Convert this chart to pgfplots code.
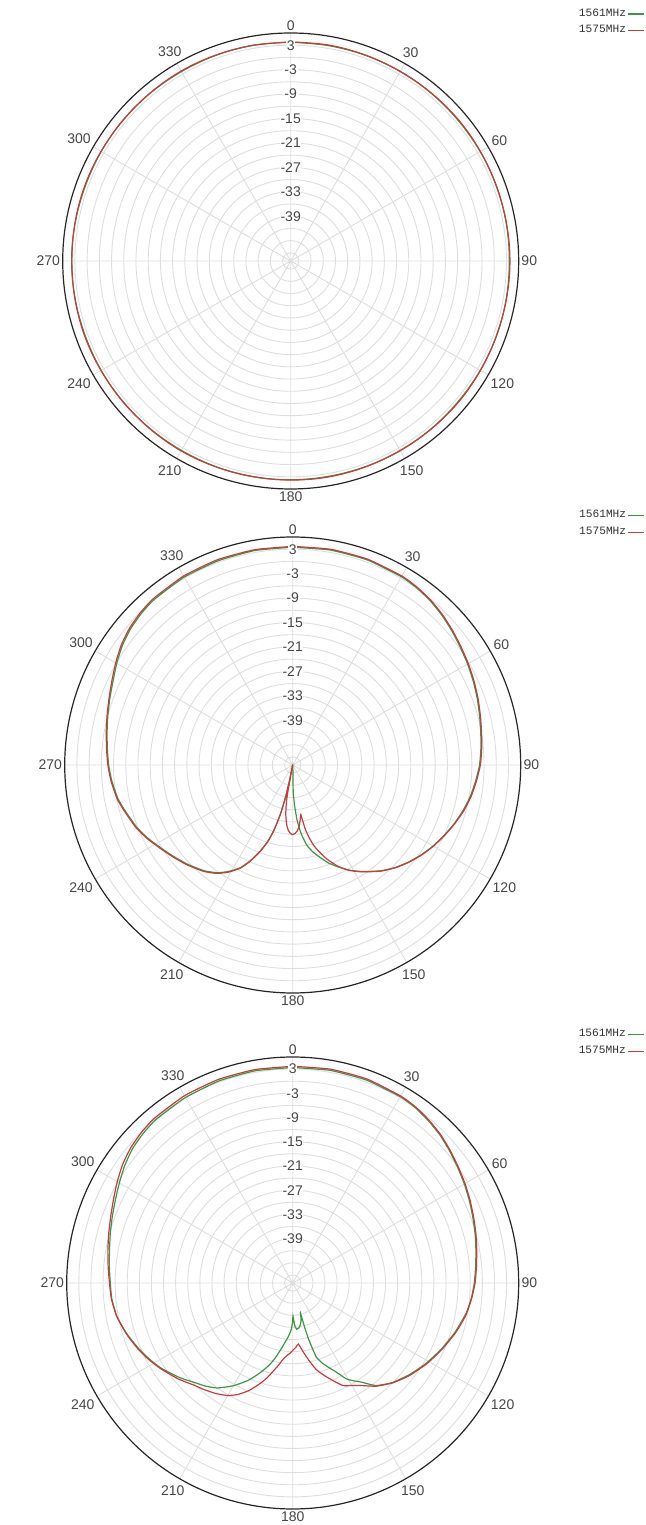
\documentclass[border=0pt]{standalone}
\usepackage{fontspec}
\setmainfont{Liberation Sans}
\newfontfamily\legfont{Liberation Mono}
\usepackage{pgfplots}
\usepackage{pgfplotstable}
\usepgfplotslibrary{polar}
\pgfplotsset{compat=1.18}
\definecolor{cg}{RGB}{60,150,70}
\definecolor{cr}{RGB}{200,60,60}
\definecolor{gridc}{RGB}{222,222,222}
\definecolor{labc}{RGB}{70,70,70}

% angle (deg, clockwise from top)  value (dB)
\pgfplotstableread{
a v
0 3.75
10 3.70
20 3.75
30 3.80
40 3.75
50 3.70
60 3.75
70 3.80
80 3.75
90 3.70
100 3.75
110 3.80
120 3.75
130 3.70
140 3.75
150 3.80
160 3.75
170 3.70
180 3.75
190 3.80
200 3.75
210 3.70
220 3.75
230 3.80
240 3.75
250 3.70
260 3.75
270 3.80
280 3.75
290 3.70
300 3.75
310 3.80
320 3.75
330 3.70
340 3.75
350 3.80
360 3.75
}\PoneG
\pgfplotstableread{
a v
0 3.80
10 3.85
20 3.80
30 3.75
40 3.80
50 3.85
60 3.80
70 3.75
80 3.80
90 3.85
100 3.80
110 3.75
120 3.80
130 3.85
140 3.80
150 3.75
160 3.80
170 3.85
180 3.80
190 3.75
200 3.80
210 3.85
220 3.80
230 3.75
240 3.80
250 3.85
260 3.80
270 3.75
280 3.80
290 3.85
300 3.80
310 3.75
320 3.80
330 3.85
340 3.80
350 3.75
360 3.80
}\PoneR
\pgfplotstableread{
a v
0 3.5
10 3.6
20 3.6
30 3.4
35 3.1
40 2.6
45 1.9
50 1.1
55 0.3
60 -0.4
65 -1.1
70 -1.8
75 -2.5
80 -3.1
85 -3.6
90 -4.1
95 -4.9
100 -5.7
105 -6.7
110 -7.8
115 -9.0
120 -10.2
125 -11.5
130 -12.9
135 -14.4
140 -16.1
144 -17.7
148 -19.2
152 -20.8
156 -22.6
160 -24.4
164 -26.6
167 -28.1
170 -30.0
173 -33.0
175.5 -36.5
177.3 -40.0
178.9 -43.5
185 -50
191.5 -46.2
192.5 -42.2
194 -37.7
196 -33.5
198 -30.4
200.7 -27.4
204 -24.2
207 -21.7
211 -19.5
215 -17.7
220 -16.1
227 -14.4
233 -13.0
238 -11.7
243 -10.2
248 -8.8
254 -7.5
259 -6.3
265 -5.4
270 -4.8
275 -4.3
280 -3.7
285 -3.0
290 -2.2
295 -1.3
300 -0.1
305 1.1
310 2.0
315 2.6
320 3.0
330 3.3
340 3.4
350 3.5
360 3.5
}\PtwoG
\pgfplotstableread{
a v
0 3.7
10 3.8
20 3.8
30 3.6
35 3.3
40 2.8
45 2.1
50 1.3
55 0.5
60 -0.2
65 -0.9
70 -1.6
75 -2.3
80 -2.9
85 -3.4
90 -3.9
95 -4.7
100 -5.5
105 -6.5
110 -7.7
115 -8.9
120 -10.1
125 -11.4
130 -12.8
135 -14.3
140 -16.0
144 -17.6
148 -19.1
152 -20.7
156 -22.8
160 -25.4
163 -27.7
165.5 -29.7
167.5 -32.0
169 -34.1
170.8 -37.7
172 -36.6
174 -34.9
176 -33.8
178 -33.2
180 -32.9
182 -33.2
184 -34.0
186 -35.5
188 -37.8
189.5 -40.5
190.3 -43.5
190.8 -50
191.5 -46
192.5 -42
194 -37.5
196 -33.3
198 -30.2
200.7 -27.2
204 -24.0
207 -21.5
211 -19.3
215 -17.5
220 -15.9
227 -14.2
233 -12.8
238 -11.5
243 -10.0
248 -8.6
254 -7.3
259 -6.1
265 -5.2
270 -4.6
275 -4.1
280 -3.5
285 -2.8
290 -2.0
295 -1.0
300 0.2
305 1.4
310 2.3
315 2.9
320 3.3
330 3.6
340 3.7
350 3.7
360 3.7
}\PtwoR
\pgfplotstableread{
a v
0 3.4
10 3.5
20 3.5
30 3.3
35 3.0
40 2.4
45 1.7
50 0.8
55 -0.1
60 -0.9
65 -1.7
70 -2.5
75 -3.2
80 -3.9
85 -4.5
90 -5.0
95 -5.6
100 -6.4
107 -8.0
114 -9.7
121 -11.4
128 -13.2
135 -15.1
141 -17.3
145.6 -20.3
148 -21.4
150.8 -22.8
153.9 -25.4
157 -27.3
160 -29.0
162.3 -30.7
163.2 -33.0
164.2 -35.5
164.9 -38.5
165.5 -42.4
166.5 -41.3
168 -40.2
170 -39.4
172.5 -38.7
175 -38.5
177 -39.3
178.5 -40.8
179.5 -41.8
180.5 -40.0
182 -38.3
185 -36.5
190 -33.4
193 -31.0
196 -28.8
200 -26.3
204.5 -23.5
210 -20.6
215.6 -18.0
220 -16.6
224.8 -15.3
230 -13.5
237 -11.2
242 -9.8
247 -8.5
253 -7.0
259 -5.7
265 -5.0
270 -4.8
275 -4.4
280 -3.9
285 -3.2
290 -2.4
295 -1.5
300 -0.4
305 0.8
310 1.8
315 2.4
320 2.8
330 3.1
340 3.3
350 3.4
360 3.4
}\PthreeG
\pgfplotstableread{
a v
0 3.7
10 3.8
20 3.8
30 3.5
35 3.2
40 2.6
45 1.9
50 1.0
55 0.1
60 -0.7
65 -1.5
70 -2.3
75 -3.0
80 -3.7
85 -4.3
90 -4.8
95 -5.5
100.8 -6.4
107 -7.8
113.9 -9.5
121 -11.2
128.5 -13.1
135 -15.0
141 -17.1
146.9 -19.7
150.5 -20.8
153.9 -21.7
157 -23.5
161 -25.7
164.8 -27.8
168 -30.3
171 -32.5
174.7 -34.8
177 -34.1
180 -33.3
182.5 -32.5
184.7 -31.9
187.1 -31.0
190 -29.2
195.2 -25.6
198 -23.8
202 -21.3
206 -19.3
210 -17.8
215 -16.6
220 -15.6
224 -14.8
230 -13.0
237 -11.0
242 -9.6
247 -8.3
253 -6.9
259.4 -5.6
265 -4.9
270 -4.6
275 -4.1
280 -3.5
285 -2.8
290 -2.0
295 -1.0
300 0.2
305 1.4
310 2.3
315 2.9
320 3.3
330 3.6
340 3.7
350 3.7
360 3.7
}\PthreeR

\tikzset{rl/.style={font=\fontsize{7}{8}\selectfont, text=labc, fill=white, inner sep=0.3pt}}
\pgfplotsset{
  antenna/.style={
    scale only axis, width=228pt, height=228pt,
    xmin=0, xmax=360, ymin=0, ymax=56,
    xtick={0,30,...,330},
    xticklabels={90,60,30,0,330,300,270,240,210,180,150,120},
    ytick={2,5,...,53},
    yticklabels={},
    grid=major,
    major grid style={gridc, line width=0.45pt},
    axis line style={black!85, line width=0.6pt},
    y axis line style={draw=none},
    major tick length=0pt,
    xticklabel style={font=\fontsize{7}{8}\selectfont, text=labc, inner sep=1.2pt},
    legend plot pos=right,
    legend cell align=right,
    legend style={draw=none, fill=none, font=\legfont\fontsize{5.6}{6}\selectfont,
      text=black!80, row sep=2pt, inner sep=0pt,
      nodes={inner sep=0.6pt}},
    legend image code/.code={\draw[##1, line width=0.7pt] (0pt,0pt) -- (8pt,0pt);},
  },
  curve/.style={line width=0.6pt, smooth, tension=0.3},
}
\newcommand\radlabels{%
  \node[rl] at (axis cs:90,53) {3};
  \node[rl] at (axis cs:90,47) {-3};
  \node[rl] at (axis cs:90,41) {-9};
  \node[rl] at (axis cs:90,35) {-15};
  \node[rl] at (axis cs:90,29) {-21};
  \node[rl] at (axis cs:90,23) {-27};
  \node[rl] at (axis cs:90,17) {-33};
  \node[rl] at (axis cs:90,11) {-39};
}

\begin{document}
\begin{tikzpicture}
\path[use as bounding box] (0pt,0pt) rectangle (322.5pt,762.5pt);

\begin{polaraxis}[antenna, at={(145.35pt,632pt)}, anchor=center,
  legend style={at={(1.277,1.057)}, anchor=north east}]
\addplot[cg, line width=0.6pt, smooth, tension=0.6] table[x expr=90-\thisrow{a}, y expr=\thisrow{v}+50] {\PoneG};
\addlegendentry{1561MHz}
\addplot[cr, line width=0.6pt, smooth, tension=0.6] table[x expr=90-\thisrow{a}, y expr=\thisrow{v}+50] {\PoneR};
\addlegendentry{1575MHz}
\radlabels
\end{polaraxis}

\begin{polaraxis}[antenna, at={(146.35pt,380pt)}, anchor=center,
  legend style={at={(1.273,1.062)}, anchor=north east}]
\addplot[cg, curve] table[x expr=90-\thisrow{a}, y expr=\thisrow{v}+50] {\PtwoG};
\addlegendentry{1561MHz}
\addplot[cr, curve] table[x expr=90-\thisrow{a}, y expr=\thisrow{v}+50] {\PtwoR};
\addlegendentry{1575MHz}
\radlabels
\end{polaraxis}

\begin{polaraxis}[antenna, width=226pt, height=226pt, at={(146.35pt,121pt)}, anchor=center,
  legend style={at={(1.279,1.065)}, anchor=north east}]
\addplot[cg, curve] table[x expr=90-\thisrow{a}, y expr=\thisrow{v}+50] {\PthreeG};
\addlegendentry{1561MHz}
\addplot[cr, curve] table[x expr=90-\thisrow{a}, y expr=\thisrow{v}+50] {\PthreeR};
\addlegendentry{1575MHz}
\radlabels
\end{polaraxis}
\end{tikzpicture}
\end{document}
